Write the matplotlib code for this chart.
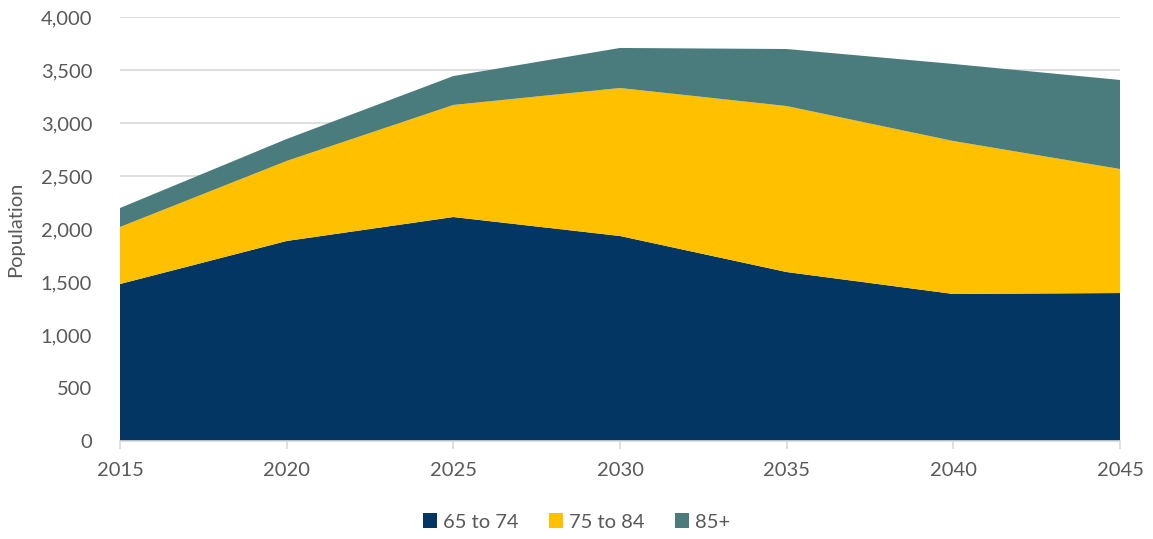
import matplotlib
matplotlib.use("Agg")
import matplotlib.pyplot as plt
from matplotlib.ticker import FuncFormatter, MultipleLocator
import numpy as np

years = [2015, 2020, 2025, 2030, 2035, 2040, 2045]
age_65_74 = [1481, 1887, 2113, 1934, 1594, 1387, 1396]
age_75_84 = [538, 755, 1057, 1396, 1566, 1443, 1170]
age_85_plus = [179, 207, 273, 378, 538, 727, 840]
labels = ["65 to 74", "75 to 84", "85+"]
colors = ["#033663", "#FFC000", "#4A7C7E"]

plt.rcParams['font.family'] = ['Lato', 'DejaVu Sans']

fig = plt.figure(figsize=(11.53, 5.39), dpi=100)
ax = fig.add_axes([120/1153, 1 - 441/539, 1000/1153, 424/539])

ax.stackplot(years, age_65_74, age_75_84, age_85_plus, colors=colors, labels=labels, linewidth=0, zorder=2)

ax.set_xlim(2015, 2045)
ax.set_ylim(0, 4000)
ax.set_xticks(years)
ax.yaxis.set_major_locator(MultipleLocator(500))
ax.yaxis.set_major_formatter(FuncFormatter(lambda v, p: f"{int(v):,}"))
ax.grid(axis='y', color='#D9D9D9', linewidth=1.2, zorder=0)
ax.set_axisbelow(True)
for s in ['top', 'right', 'left']:
    ax.spines[s].set_visible(False)
ax.spines['bottom'].set_color('#D9D9D9')
ax.spines['bottom'].set_linewidth(1.2)
ax.tick_params(axis='y', length=0, labelsize=14.5, labelcolor='#595959', pad=20)
ax.tick_params(axis='x', length=6, color='#D9D9D9', width=1.2, labelsize=14.5, labelcolor='#595959', pad=9)
ax.set_ylabel("Population", fontsize=14.5, color='#595959', labelpad=12)

leg = fig.legend(loc='lower center', bbox_to_anchor=(0.5, -0.018), ncol=3, frameon=False,
                 fontsize=14.5, handlelength=0.7, handleheight=0.7, handletextpad=0.3, columnspacing=1.5,
                 labelcolor='#595959')

fig.savefig("out.png", dpi=100)
